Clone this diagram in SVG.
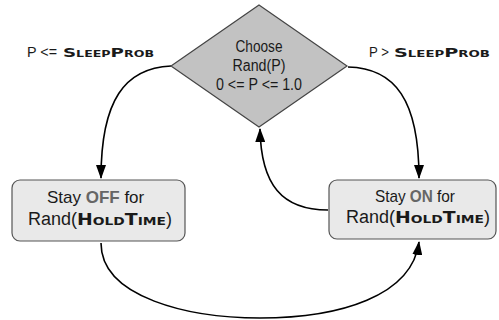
<svg xmlns="http://www.w3.org/2000/svg" width="499" height="320" viewBox="0 0 499 320">
<style>
.t{font-family:"Liberation Sans",Arial,sans-serif;fill:#1a1a1a}
.sc{font-family:"DejaVu Sans",sans-serif;font-variant:small-caps;font-weight:bold;fill:#1a1a1a}
.em{font-family:"Liberation Sans",Arial,sans-serif;font-weight:bold;fill:#666}
.box{fill:#e9e9e9;stroke:#555;stroke-width:1.2}
.dia{fill:#c2c2c2;stroke:#444;stroke-width:1.2}
.con{fill:none;stroke:#000;stroke-width:1.6}
</style>
<defs>
<marker id="ah" markerWidth="14" markerHeight="10" refX="13" refY="5" orient="auto" markerUnits="userSpaceOnUse">
<path d="M0,0 L14,5 L0,10 Z" fill="#000"/>
</marker>
</defs>
<g id="connectors">
<path class="con" d="M171,66 C125,68 101,100 101,178" marker-end="url(#ah)"/>
<path class="con" d="M348,67 C395,68 419,100 419,178" marker-end="url(#ah)"/>
<path class="con" d="M328,210 C282,210 261,185 260,129" marker-end="url(#ah)"/>
<path class="con" d="M101,243 C101,298 190,318 260,318 C340,318 412,296 419,242" marker-end="url(#ah)"/>
</g>
<g id="label-left">
<text class="t" x="27" y="57" font-size="15" textLength="30" lengthAdjust="spacingAndGlyphs">P &lt;=</text>
<text class="sc" x="63" y="57" font-size="13" textLength="91" lengthAdjust="spacingAndGlyphs">SleepProb</text>
</g>
<g id="label-right">
<text class="t" x="369" y="57" font-size="15" textLength="20" lengthAdjust="spacingAndGlyphs">P &gt;</text>
<text class="sc" x="394" y="57" font-size="13" textLength="96" lengthAdjust="spacingAndGlyphs">SleepProb</text>
</g>
<g id="choose">
<polygon class="dia" points="259,5 347,66 259,127 171,66"/>
<text class="t" font-size="16" x="235.5" y="52" textLength="47" lengthAdjust="spacingAndGlyphs">Choose</text>
<text class="t" font-size="16" x="232.5" y="71" textLength="53" lengthAdjust="spacingAndGlyphs">Rand(P)</text>
<text class="t" font-size="16" x="216" y="90" textLength="86" lengthAdjust="spacingAndGlyphs">0 &lt;= P &lt;= 1.0</text>
</g>
<g id="stay-off">
<rect class="box" x="12" y="180" width="173" height="61" rx="8"/>
<text class="t" font-size="17" x="47" y="203">Stay</text>
<text class="em" font-size="17" x="85.7" y="203">OFF</text>
<text class="t" font-size="17" x="124.4" y="203">for</text>
<text class="t" font-size="18" x="28" y="225">Rand(<tspan class="sc" font-size="15" textLength="89" lengthAdjust="spacingAndGlyphs">HoldTime</tspan>)</text>
</g>
<g id="stay-on">
<rect class="box" x="329" y="180" width="167" height="59" rx="8"/>
<text class="t" font-size="17" x="375" y="202" textLength="30.7" lengthAdjust="spacingAndGlyphs">Stay</text>
<text class="em" font-size="17" x="409.8" y="202" textLength="23" lengthAdjust="spacingAndGlyphs">ON</text>
<text class="t" font-size="17" x="437" y="202" textLength="18" lengthAdjust="spacingAndGlyphs">for</text>
<text class="t" font-size="18" x="346" y="223">Rand(<tspan class="sc" font-size="15" textLength="89" lengthAdjust="spacingAndGlyphs">HoldTime</tspan>)</text>
</g>
</svg>
